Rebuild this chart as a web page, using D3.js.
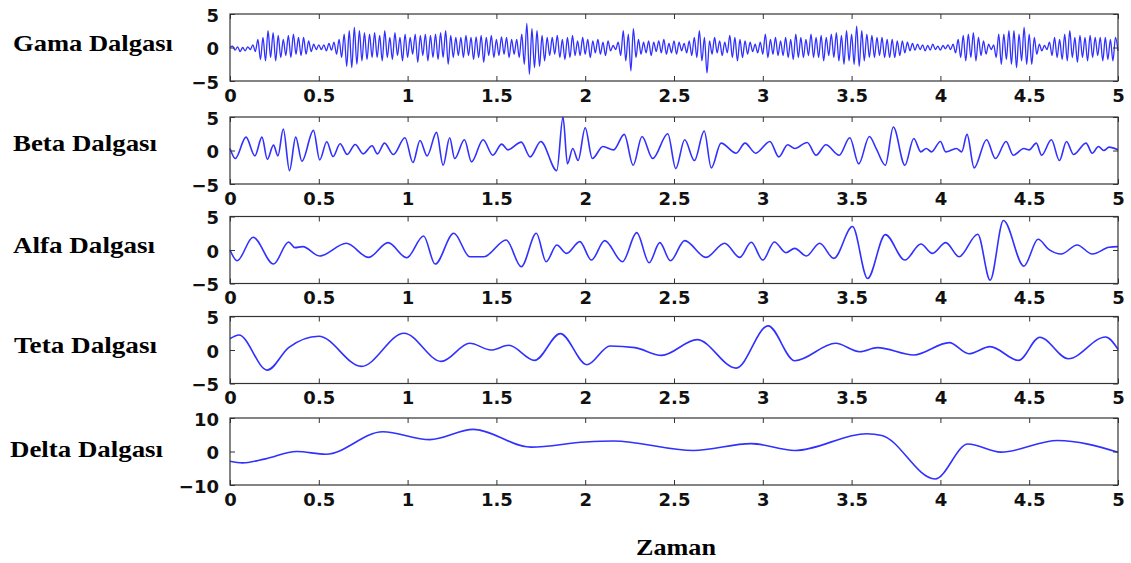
<!DOCTYPE html>
<html><head><meta charset="utf-8">
<script src="https://cdn.jsdelivr.net/npm/d3@7"></script>
<style>body{margin:0;background:#fff}svg{display:block}</style>
</head><body><svg id="c" width="1131" height="563"></svg>
<script>
// ---------- DATA ----------
const xTickValues = [0, 0.5, 1, 1.5, 2, 2.5, 3, 3.5, 4, 4.5, 5];
const yTicksSmall = [-5, 0, 5];
const yTicksDelta = [-10, 0, 10];
const panelNames = ["Gama Dalgası", "Beta Dalgası", "Alfa Dalgası", "Teta Dalgası", "Delta Dalgası"];
const xTitle = "Zaman";

// Gamma: extrema sampled every 5/350 s
const gamaStep = 5 / 350;
const gamaValues = [0,
0.2,-0.4,0.1,-0.6,0.0,-0.5,0.1,
-0.3,0.4,-0.6,1.2,-1.8,1.5,-2.0,
2.5,-1.5,2.2,-2.0,1.8,-1.5,1.2,
-1.2,1.8,-1.5,2.0,-1.0,1.5,-1.2,
1.5,-1.0,1.0,-0.6,0.5,-0.3,0.4,
-0.3,0.4,-0.5,0.6,-0.4,0.8,-1.0,
1.2,-1.5,2.0,-2.8,2.5,-3.0,3.0,
-2.5,2.5,-2.0,2.2,-1.8,2.0,-1.5,
2.2,-1.5,1.8,-2.0,2.5,-1.5,1.5,
-1.8,2.2,-1.2,1.5,-2.0,2.0,-1.5,
1.5,-1.0,2.0,-2.2,1.8,-1.2,2.0,
-2.0,1.8,-1.5,2.0,-1.8,2.2,-1.5,
2.5,-2.5,1.8,-1.5,1.5,-1.2,1.5,
-1.5,1.8,-1.2,1.5,-1.8,1.6,-1.5,
1.8,-2.2,1.5,-1.2,1.8,-1.5,1.2,
-1.2,1.6,-1.0,1.5,-1.5,1.2,-1.0,
1.2,-1.5,2.0,-2.5,3.6,-4.0,2.8,
-3.0,2.5,-2.8,1.8,-2.0,1.5,-1.2,
1.5,-1.0,1.8,-1.5,1.2,-1.8,1.5,
-1.5,1.8,-1.2,1.0,-1.2,1.5,-1.0,
1.2,-1.5,1.0,-0.8,1.2,-1.0,0.8,
-1.2,1.0,-0.5,0.3,-0.3,0.8,-1.2,
2.5,-2.0,2.0,-3.5,2.8,-1.5,1.2,
-1.0,0.8,-0.8,1.0,-1.2,0.8,-0.6,
1.0,-0.8,1.2,-1.0,0.6,-0.8,1.0,
-1.0,0.8,-0.5,0.6,-0.8,1.0,-1.2,
1.5,-1.5,2.5,-2.0,1.5,-3.8,1.0,
-1.0,1.5,-0.8,1.0,-1.2,0.8,-0.8,
1.8,-1.5,1.5,-2.0,1.2,-1.5,1.0,
-1.0,0.8,-0.6,0.5,-0.8,0.8,-1.0,
2.0,-1.5,1.2,-1.0,1.5,-1.2,1.0,
-1.2,1.5,-1.5,1.2,-1.8,2.0,-1.5,
1.5,-1.5,1.2,-1.2,2.0,-1.5,1.5,
-1.5,1.8,-2.0,1.5,-1.2,2.0,-1.5,
2.2,-2.0,1.8,-2.5,2.5,-2.0,2.0,
-2.5,3.2,-2.8,2.5,-2.0,2.0,-1.5,
1.8,-1.5,1.5,-1.2,1.5,-1.5,1.2,
-1.5,1.2,-1.5,1.0,-1.2,1.0,-0.8,
0.8,-0.5,0.6,-0.4,0.5,-0.3,0.4,
-0.5,0.3,-0.4,0.5,-0.3,0.2,-0.4,
0.3,-0.2,0.4,-0.3,0.5,-0.8,1.2,
-1.5,1.8,-2.0,2.0,-1.5,2.2,-2.0,
1.5,-1.2,1.0,-1.0,0.5,-0.3,0.4,
-1.5,2.0,-2.5,2.0,-1.8,2.5,-2.5,
2.5,-3.0,2.0,-2.0,3.0,-2.5,2.0,
-2.5,1.5,-1.0,0.5,-0.5,0.3,-0.3,
0.8,-1.2,1.5,-1.5,1.2,-1.8,2.0,
-2.0,2.5,-1.5,1.5,-2.2,1.8,-1.5,
1.5,-2.0,1.8,-1.5,1.5,-1.2,1.5,
-2.0,1.5,-1.8,1.2,-2.0,1.5,-0.5];

// Beta: [time, value] extrema
const betaWave = [[0,0.3],[0.03,-1.2],[0.09,2.0],[0.14,-0.8],[0.18,2.0],[0.21,-1.3],[0.245,0.8],[0.27,-0.8],
[0.30,3.2],[0.335,-3.0],[0.37,2.0],[0.405,-1.6],[0.47,3.0],[0.505,-1.4],[0.545,1.3],[0.58,-0.9],[0.62,1.0],
[0.66,-0.6],[0.705,0.9],[0.75,-0.5],[0.80,0.7],[0.83,-0.5],[0.87,1.1],[0.92,-0.6],[0.985,1.9],[1.03,-1.8],
[1.07,1.5],[1.11,-0.8],[1.163,2.7],[1.2,-2.2],[1.237,1.9],[1.265,-1.2],[1.32,1.6],[1.36,-1.7],[1.425,1.6],
[1.48,-0.7],[1.53,0.95],[1.565,0.1],[1.64,1.25],[1.69,-0.95],[1.75,1.35],[1.84,-3.0],[1.875,5.0],[1.90,-2.0],
[1.93,0.3],[1.96,-1.5],[2.0,3.4],[2.04,-1.2],[2.1,0.6],[2.16,0.1],[2.22,2.4],[2.27,-2.2],[2.32,2.1],[2.38,-1.2],
[2.465,2.5],[2.51,-2.7],[2.56,1.6],[2.615,-1.5],[2.67,2.9],[2.71,-2.6],[2.765,1.1],[2.85,-0.4],[2.9,1.1],
[2.96,-0.4],[3.04,1.35],[3.09,-0.95],[3.14,0.85],[3.18,0.3],[3.25,1.2],[3.3,-0.7],[3.355,0.85],[3.43,-0.7],
[3.49,1.9],[3.54,-2.0],[3.6,2.1],[3.64,0.2],[3.69,-2.2],[3.735,3.5],[3.8,-2.2],[3.85,1.8],[3.89,-0.2],
[3.92,0.3],[3.95,-0.2],[4.0,1.35],[4.03,-0.2],[4.09,0.3],[4.12,-0.2],[4.15,2.4],[4.19,-2.6],[4.26,1.6],
[4.31,-1.2],[4.37,1.35],[4.41,-0.7],[4.47,0.3],[4.5,0.1],[4.54,1.1],[4.57,-0.7],[4.625,1.6],[4.67,-1.5],
[4.71,1.35],[4.75,-0.6],[4.82,1.1],[4.855,-0.4],[4.89,0.6],[4.92,0.0],[4.95,0.5],[5.0,0.1]];

// Alfa
const alfaWave = [[0,0],[0.04,-1.6],[0.13,1.9],[0.245,-2.1],[0.33,1.2],[0.365,0.35],[0.41,0.5],[0.505,-0.9],
[0.655,1.0],[0.78,-1.1],[0.89,1.1],[0.995,-1.15],[1.09,2.1],[1.155,-2.1],[1.26,2.5],[1.35,-1.0],[1.43,-1.0],
[1.555,1.5],[1.64,-2.5],[1.725,2.5],[1.78,-1.75],[1.84,0.75],[1.895,-0.5],[1.97,1.25],[2.035,-1.5],[2.11,1.4],
[2.21,-1.75],[2.29,2.6],[2.36,-1.9],[2.42,1.1],[2.48,-1.6],[2.56,1.4],[2.68,-1.1],[2.785,1.0],[2.87,-1.1],
[2.935,1.15],[3.0,-1.5],[3.065,1.2],[3.13,-0.4],[3.18,0.25],[3.245,-0.9],[3.32,1.0],[3.40,-1.25],[3.505,3.5],
[3.59,-4.25],[3.69,2.3],[3.80,-1.5],[3.89,0.9],[3.955,-0.5],[4.03,1.1],[4.105,-1.0],[4.21,2.35],[4.28,-4.5],
[4.355,4.4],[4.47,-2.4],[4.55,1.6],[4.61,0.1],[4.68,-0.6],[4.77,0.75],[4.855,-0.6],[4.95,0.4],[5.0,0.5]];

// Teta
const tetaWave = [[0,1.7],[0.05,2.25],[0.21,-3.0],[0.33,0.35],[0.5,2.05],[0.74,-2.45],[0.98,2.5],[1.19,-1.7],
[1.35,1.0],[1.47,0.0],[1.57,0.7],[1.715,-1.55],[1.86,2.45],[2.01,-2.2],[2.14,0.6],[2.28,0.35],[2.43,-0.8],
[2.63,1.55],[2.85,-2.7],[3.03,3.6],[3.18,-1.6],[3.41,1.0],[3.545,-0.25],[3.645,0.35],[3.85,-0.75],[4.05,1.1],
[4.16,-0.55],[4.28,0.5],[4.44,-1.55],[4.56,1.9],[4.72,-1.3],[4.93,1.95],[5.0,0.1]];

// Delta
const deltaWave = [[0,-2.9],[0.07,-3.4],[0.2,-2.2],[0.375,0],[0.54,-0.8],[0.86,5.9],[1.125,3.55],[1.37,6.6],
[1.695,1.3],[2.0,2.85],[2.16,3.15],[2.61,0.3],[2.935,2.35],[3.18,0.3],[3.585,5.3],[3.67,4.8],[3.97,-8.2],
[4.155,2.25],[4.34,-0.2],[4.66,3.3],[5.0,-0.2]];

// ---------- DRAW ----------
const gamaWave = gamaValues.map((v, i) => [i * gamaStep, v]);
const svg = d3.select("#c");
const x = d3.scaleLinear().domain([0, 5]).range([230, 1118]);
const H = 67;
const panels = [
  {data: gamaWave, dom: [-5, 5], ticks: yTicksSmall, top: 14, base: 51, lw: 160, lx: 13, sw: 1.3},
  {data: betaWave, dom: [-5, 5], ticks: yTicksSmall, top: 117, base: 151, lw: 144, lx: 13, sw: 1.6},
  {data: alfaWave, dom: [-5, 5], ticks: yTicksSmall, top: 216.5, base: 253, lw: 142, lx: 13, sw: 1.6},
  {data: tetaWave, dom: [-5, 5], ticks: yTicksSmall, top: 316.5, base: 353, lw: 143, lx: 14, sw: 1.6},
  {data: deltaWave, dom: [-10, 10], ticks: yTicksDelta, top: 418, base: 457, lw: 153, lx: 10, sw: 1.6}
];
const tickFont = "'DejaVu Sans', sans-serif";

panels.forEach((p, i) => {
  const y = d3.scaleLinear().domain(p.dom).range([p.top + H, p.top]);
  const g = svg.append("g");

  g.append("path").datum(p.data)
    .attr("fill", "none").attr("stroke", "#3030ff").attr("stroke-width", p.sw)
    .attr("stroke-linejoin", "round")
    .attr("d", d3.line().x(d => x(d[0])).y(d => y(d[1])).curve(d3.curveMonotoneX));

  const styleAxis = sel => {
    sel.select(".domain").remove();
    sel.selectAll("line").attr("stroke", "#333").attr("stroke-width", 1);
    sel.selectAll("text").attr("fill", "#111").style("font-family", tickFont)
      .style("font-weight", "bold").style("font-size", "18px");
  };
  g.append("g").attr("transform", `translate(0,${p.top + H})`)
    .call(d3.axisBottom(x).tickValues(xTickValues).tickSize(-5).tickPadding(8).tickFormat(d3.format("")))
    .call(styleAxis);
  g.append("g").attr("transform", `translate(0,${p.top})`)
    .call(d3.axisTop(x).tickValues(xTickValues).tickSize(-5).tickFormat(""))
    .call(styleAxis);
  g.append("g").attr("transform", `translate(${x(0)},0)`)
    .call(d3.axisLeft(y).tickValues(p.ticks).tickSize(-5).tickPadding(11).tickFormat(d3.format("")))
    .call(styleAxis)
    .selectAll("text").attr("dy", "0.4em");
  g.append("g").attr("transform", `translate(${x(5)},0)`)
    .call(d3.axisRight(y).tickValues(p.ticks).tickSize(-5).tickFormat(""))
    .call(styleAxis);

  g.append("rect").attr("x", x(0)).attr("y", p.top).attr("width", x(5) - x(0)).attr("height", H)
    .attr("fill", "none").attr("stroke", "#333").attr("stroke-width", 1.2);

  svg.append("text").attr("x", p.lx).attr("y", p.base)
    .attr("textLength", p.lw).attr("lengthAdjust", "spacingAndGlyphs")
    .style("font-family", "'Liberation Serif', 'Times New Roman', serif")
    .style("font-weight", "bold").style("font-size", "24px").attr("fill", "#000")
    .text(panelNames[i]);
});

svg.append("text").attr("x", 636).attr("y", 555)
  .attr("textLength", 80).attr("lengthAdjust", "spacingAndGlyphs")
  .style("font-family", "'Liberation Serif', 'Times New Roman', serif")
  .style("font-weight", "bold").style("font-size", "23px").attr("fill", "#000")
  .text(xTitle);
</script>
</body></html>
